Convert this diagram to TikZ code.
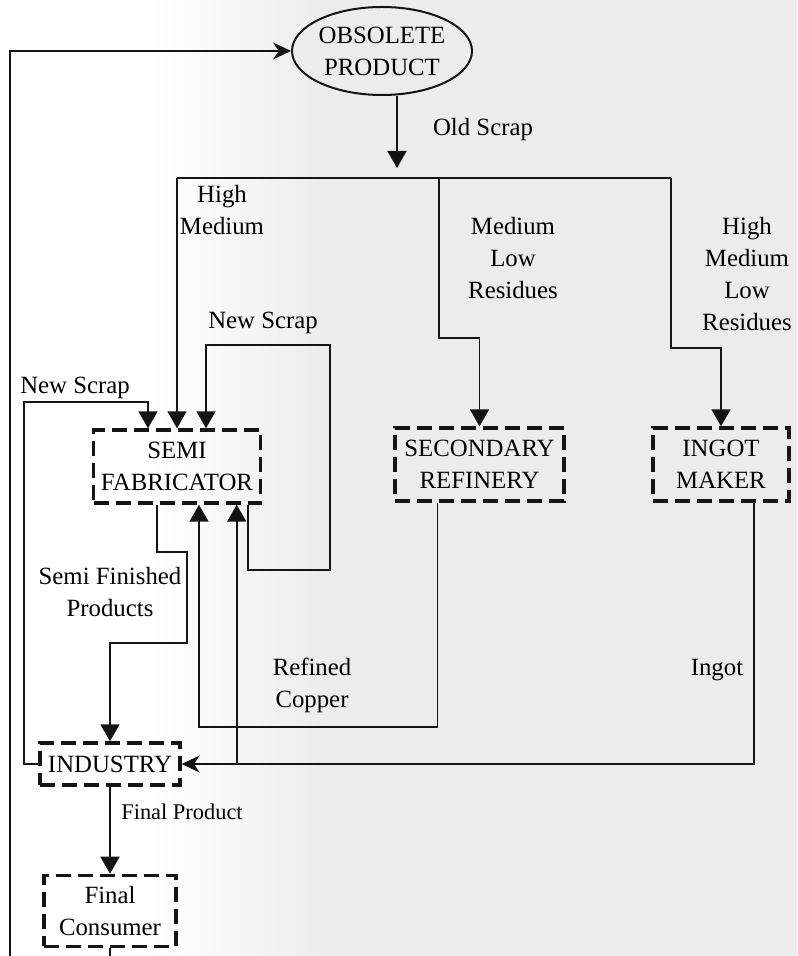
\documentclass[tikz,border=0pt]{standalone}
\usepackage{fontspec}
\setmainfont{Liberation Serif}
\usetikzlibrary{positioning,arrows.meta,calc,shapes.geometric}
\definecolor{Ink}{RGB}{20,20,20}
\definecolor{Paper}{RGB}{236,236,236}
\newcommand\mainsize{\fontsize{12.4}{16}\selectfont}
\newcommand\smallsize{\fontsize{11.2}{14}\selectfont}

\begin{document}
\begin{tikzpicture}[x=0.5pt,y=-0.5pt,
  plant/.style={draw=Ink,line width=1.7pt,dash pattern=on 7.5pt off 3.5pt,minimum height=36.5pt,inner sep=0pt,align=center,font=\mainsize},
  product/.style={ellipse,draw=Ink,line width=1pt,fill=Paper,minimum width=90pt,minimum height=44pt,inner sep=0pt,align=center,font=\mainsize},
  tag/.style={align=center,inner sep=0pt,font=\mainsize},
  wire/.style={line width=0.9pt,Ink},
  flow/.style={-{Triangle[length=8.5pt,width=9.5pt]},line width=0.9pt,Ink},
  back/.style={-{Stealth[length=9pt,width=8.5pt]},line width=0.9pt,Ink}]
\useasboundingbox (0,0) rectangle (797,956);
\clip (0,0) rectangle (797,956);
% scanned page tone
\fill[left color=white,right color=Paper] (150,0) rectangle (330,956);
\fill[Paper] (330,0) rectangle (797,956);
% units
\node[product] (obsolete) at (382,51) {OBSOLETE\\PRODUCT};
\node[plant,minimum width=83.5pt] (semi) at (177,466.5) {SEMI\\FABRICATOR};
\node[plant,minimum width=84.5pt] (secondary) at (479.5,464.5) {SECONDARY\\REFINERY};
\node[plant,minimum width=68pt] (ingot) at (721,464.5) {INGOT\\MAKER};
\node[plant,minimum width=70pt,minimum height=21pt] (industry) at (110,764) {INDUSTRY};
\node[plant,minimum width=66pt,minimum height=35.5pt,below=43.5pt of industry] (consumer) {Final\\Consumer};
% labels
\node[tag] (oldlbl) at (483,130) {Old Scrap};
\node[tag] (hmlbl) at (222,210) {High\\Medium};
\node[tag] (mlrlbl) at (513,258) {Medium\\Low\\Residues};
\node[tag] (hmlrlbl) at (747,274) {High\\Medium\\Low\\Residues};
\node[tag] (newlbl) at (263,323) {New Scrap};
\node[tag] (newlbl2) at (75,388) {New Scrap};
\node[tag] (semilbl) at (110,592) {Semi Finished\\Products};
\node[tag] (refinedlbl) at (312,685) {Refined\\Copper};
\node[tag] (ingotlbl) at (717,670) {Ingot};
\node[tag,font=\smallsize] (finallbl) at (182,812) {Final Product};
% junctions
\coordinate (oldtip) at (397,168); \coordinate (busL) at (177,178); \coordinate (busR) at (671,178);
\coordinate (b2) at (439,178); \coordinate (loop) at (10,1000); \coordinate (tap) at ($(industry.east)+(55,0)$);
% connectors
\draw[flow] (obsolete.south -| oldtip) -- (oldtip);
\draw[wire] (busL) -- (busR);
\draw[flow] (busL) -- (semi.north);
\draw[flow] (b2) -- (439,338) -| (secondary.north);
\draw[flow] (busR) -- (671,348) -| (ingot.north);
\draw[flow] (industry.west) -- ++(-14,0) |- ($(semi.north)+(-29,-26)$) -- ($(semi.north)+(-29,0)$);
\draw[flow] ($(semi.south)+(71,0)$) |- (330,570) -- (330,345) -| ($(semi.north)+(29,0)$);
\draw[flow] ($(semi.south)+(-20,0)$) |- (187,552) |- ($(industry.north)+(0,-98)$) -- (industry.north);
\draw[flow] ($(secondary.south)+(-42,0)$) |- ($(semi.south)+(22,222)$) -- ($(semi.south)+(22,0)$);
\draw[back] ($(ingot.south)+(33,0)$) |- (industry.east);
\draw[flow] (tap) -- (tap |- semi.south);
\draw[flow] (industry.south) -- (consumer.north);
\draw[back] (consumer.south) |- (loop) |- (obsolete.west);
\end{tikzpicture}
\end{document}
